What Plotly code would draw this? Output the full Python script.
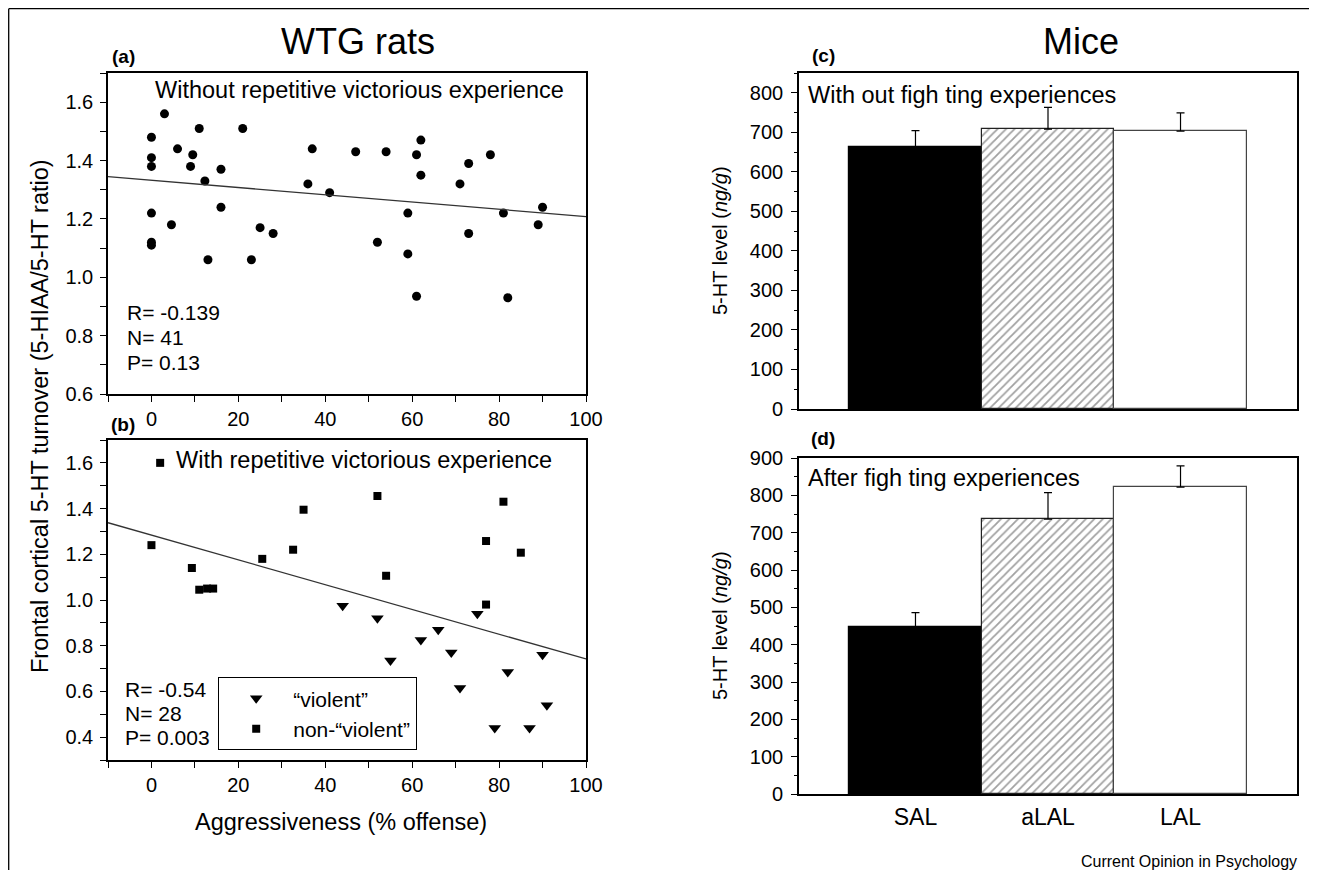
import plotly.graph_objects as go

# ---------------- data ----------------
# Panel (a): WTG rats without repetitive victorious experience
a_aggr = [3, 0, 11, 21, 6, 9.5, 0, 0, 9, 16, 12.3, 37, 47, 54, 36, 41, 0, 16, 4.6, 25, 28,
          0, 0, 52, 13, 23, 62, 61, 62, 73, 78, 71, 59, 81, 90, 89, 73, 59, 61, 82]
a_turn = [1.56, 1.48, 1.51, 1.51, 1.44, 1.42, 1.41, 1.38, 1.38, 1.37, 1.33, 1.44, 1.43, 1.43, 1.32, 1.29,
          1.22, 1.24, 1.18, 1.17, 1.15, 1.12, 1.11, 1.12, 1.06, 1.06, 1.47, 1.42, 1.35, 1.39, 1.42, 1.32,
          1.22, 1.22, 1.24, 1.18, 1.15, 1.08, 0.935, 0.93]
a_fit = (1.3325, -0.001245)   # intercept, slope
a_stats = ["R= -0.139", "N= 41", "P= 0.13"]

# Panel (b): with repetitive victorious experience
b_viol_x = [44, 52, 55, 62, 66, 69, 71, 75, 82, 90, 91, 79, 87]
b_viol_y = [0.975, 0.92, 0.735, 0.825, 0.87, 0.77, 0.615, 0.94, 0.685, 0.76, 0.54, 0.44, 0.44]
b_non_x = [2, 0, 9.3, 11, 12.8, 14.2, 25.5, 32.6, 35, 52, 54, 81, 77, 85, 77]
b_non_y = [1.6, 1.24, 1.14, 1.045, 1.05, 1.05, 1.18, 1.22, 1.395, 1.455, 1.106, 1.43, 1.258, 1.207, 0.98]
b_fit = (1.284, -0.00542)
b_stats = ["R= -0.54", "N= 28", "P= 0.003"]
fit_x = [-10, 100]

# Panels (c), (d): mice 5-HT level
groups = ["SAL", "aLAL", "LAL"]
c_vals = [662, 708, 703]
c_err = [42, 55, 46]
d_vals = [447, 736, 822]
d_err = [39, 71, 57]

# ---------------- helpers ----------------
# page has an 8px body margin on every side; keep the figure inside the window
OFF = 8
W, H = 1318 - 2 * OFF, 878 - 2 * OFF
FONT = "Liberation Sans, Arial, Helvetica, sans-serif"


def fx(p):
    return (p - OFF) / W


def fy(p):
    return 1 - (p - OFF) / H


fig = go.Figure()

# (a)
fig.add_trace(go.Scatter(x=a_aggr, y=a_turn, mode="markers", xaxis="x", yaxis="y",
                         marker=dict(symbol="circle", size=9, color="black"), showlegend=False))
fig.add_trace(go.Scatter(x=fit_x, y=[a_fit[0] + a_fit[1] * v for v in fit_x], mode="lines",
                         xaxis="x", yaxis="y", line=dict(color="#333", width=1.3), showlegend=False))
# (b)
fig.add_trace(go.Scatter(x=b_viol_x, y=b_viol_y, mode="markers", xaxis="x2", yaxis="y2",
                         name="\u201cviolent\u201d",
                         marker=dict(symbol="triangle-down", size=11, color="black")))
fig.add_trace(go.Scatter(x=b_non_x, y=b_non_y, mode="markers", xaxis="x2", yaxis="y2",
                         name="non-\u201cviolent\u201d",
                         marker=dict(symbol="square", size=8, color="black")))
fig.add_trace(go.Scatter(x=fit_x, y=[b_fit[0] + b_fit[1] * v for v in fit_x], mode="lines",
                         xaxis="x2", yaxis="y2", line=dict(color="#333", width=1.3), showlegend=False))

# (c), (d) bars
bar_colors = ["black", "white", "white"]
bar_patterns = ["", "/", ""]
bar_lines = ["black", "#222", "#444"]
for vals, errs, xa, ya in [(c_vals, c_err, "x3", "y3"), (d_vals, d_err, "x4", "y4")]:
    fig.add_trace(go.Bar(
        x=groups, y=vals, xaxis=xa, yaxis=ya, showlegend=False,
        marker=dict(color=bar_colors, line=dict(color=bar_lines, width=1.2),
                    pattern=dict(shape=bar_patterns, fgcolor="#111", bgcolor="white",
                                 size=6, solidity=0.3)),
        error_y=dict(type="data", array=errs, arrayminus=[0] * len(errs), symmetric=False,
                     color="black", thickness=1.2, width=4),
    ))


def lin_axis(domain, rng, dtick, minor_dtick, anchor, tick0=0, fmt=None, minorlen=6, standoff=6):
    d = dict(domain=domain, range=rng, tick0=tick0, dtick=dtick, ticks="outside", ticklen=6,
             tickwidth=1.3, tickcolor="black",
             minor=dict(tick0=tick0, dtick=minor_dtick, ticks="outside", ticklen=minorlen,
                        tickwidth=1.3, tickcolor="black", showgrid=False),
             showline=True, linecolor="black", linewidth=1.6, mirror=True, showgrid=False,
             zeroline=False, anchor=anchor, automargin=False,
             tickfont=dict(size=20, color="black", family=FONT), ticklabelstandoff=standoff)
    if fmt:
        d["tickformat"] = fmt
    return d


xa_dom = [fx(108), fx(586)]
xc_dom = [fx(799), fx(1297)]
cat_range = [-0.879, 2.879]

layout_axes = dict(
    xaxis=lin_axis(xa_dom, [-10, 100], 20, 10, "y", standoff=0),
    yaxis=lin_axis([fy(394), fy(73)], [0.6, 1.7], 0.2, 0.1, "x", tick0=0.6, fmt=".1f", standoff=3),
    xaxis2=lin_axis(xa_dom, [-10, 100], 20, 10, "y2", standoff=0),
    yaxis2=lin_axis([fy(760), fy(440)], [0.3, 1.7], 0.2, 0.1, "x2", tick0=0.4, fmt=".1f", standoff=3),
    yaxis3=lin_axis([fy(409), fy(73)], [0, 850], 100, 50, "x3", minorlen=3, standoff=4),
    yaxis4=lin_axis([fy(794), fy(458)], [0, 900], 100, 50, "x4", minorlen=3, standoff=4),
    xaxis3=dict(domain=xc_dom, anchor="y3", type="category", categoryorder="array",
                categoryarray=groups, range=cat_range, showticklabels=False, ticks="",
                showline=True, linecolor="black", linewidth=1.6, mirror=True, showgrid=False,
                automargin=False),
    xaxis4=dict(domain=xc_dom, anchor="y4", type="category", categoryorder="array",
                categoryarray=groups, range=cat_range, ticks="",
                showline=True, linecolor="black", linewidth=1.6, mirror=True, showgrid=False,
                automargin=False, tickfont=dict(size=23, color="black", family=FONT),
                ticklabelstandoff=2),
    # single tick under the middle category, as in the original
    xaxis5=dict(overlaying="x4", anchor="y4", type="category", categoryorder="array",
                categoryarray=groups, range=cat_range, tickvals=[groups[1]], ticks="outside",
                ticklen=6, tickwidth=1.3, tickcolor="black", showticklabels=False,
                showline=False, showgrid=False, zeroline=False, automargin=False),
)

ann = []


def text(x, y, s, size, xanchor="left", bold=False, angle=0):
    if bold:
        s = "<b>" + s + "</b>"
    ann.append(dict(x=fx(x), y=fy(y), xref="paper", yref="paper", text=s, showarrow=False,
                    xanchor=xanchor, yanchor="middle", textangle=angle, borderpad=0,
                    font=dict(size=size, color="black", family=FONT)))


text(358, 42, "WTG rats", 36, "center")
text(1081, 42, "Mice", 36, "center")
text(123, 56, "(a)", 19, "center", bold=True)
text(123, 424, "(b)", 19, "center", bold=True)
text(823, 55, "(c)", 19, "center", bold=True)
text(823, 438, "(d)", 19, "center", bold=True)
text(154, 90, "Without repetitive victorious experience", 23.5)
text(175, 460, "With repetitive victorious experience", 23.5)
text(807, 95, "With out figh ting experiences", 23.5)
text(807, 478, "After figh ting experiences", 23.5)
for i, s in enumerate(a_stats):
    text(126, 313 + 24.6 * i, s, 21)
for i, s in enumerate(b_stats):
    text(124, 689 + 24.4 * i, s, 21)
text(40, 416, "Frontal cortical 5-HT turnover (5-HIAA/5-HT ratio)", 23.5, "center", angle=-90)
text(341, 822, "Aggressiveness (% offense)", 23.5, "center")
text(720, 241, "5-HT level (<i>ng/g</i>)", 20, "center", angle=-90)
text(720, 626, "5-HT level (<i>ng/g</i>)", 20, "center", angle=-90)
text(1298, 861, "Current Opinion in Psychology", 16, "right")

frame = dict(color="black", width=1.3)
fig.update_layout(
    width=W, height=H, margin=dict(l=0, r=0, t=0, b=0),
    paper_bgcolor="white", plot_bgcolor="white",
    font=dict(family=FONT, color="black"),
    bargap=0,
    annotations=ann,
    showlegend=True,
    legend=dict(x=fx(218), y=fy(677), xanchor="left", yanchor="top", bgcolor="white",
                bordercolor="black", borderwidth=1.2, font=dict(size=21, family=FONT, color="black"),
                traceorder="normal", itemwidth=64),
    shapes=[
        dict(type="line", xref="paper", yref="paper", x0=fx(8.7), x1=fx(1309), y0=fy(8.7), y1=fy(8.7),
             line=frame),
        dict(type="line", xref="paper", yref="paper", x0=fx(8.7), x1=fx(8.7), y0=fy(8.7), y1=0,
             line=frame),
    ],
    **layout_axes,
)

fig.write_html("out.html", config={"displayModeBar": False},
               post_script="document.documentElement.style.overflow='hidden';"
                           "document.body.style.overflow='hidden';")
